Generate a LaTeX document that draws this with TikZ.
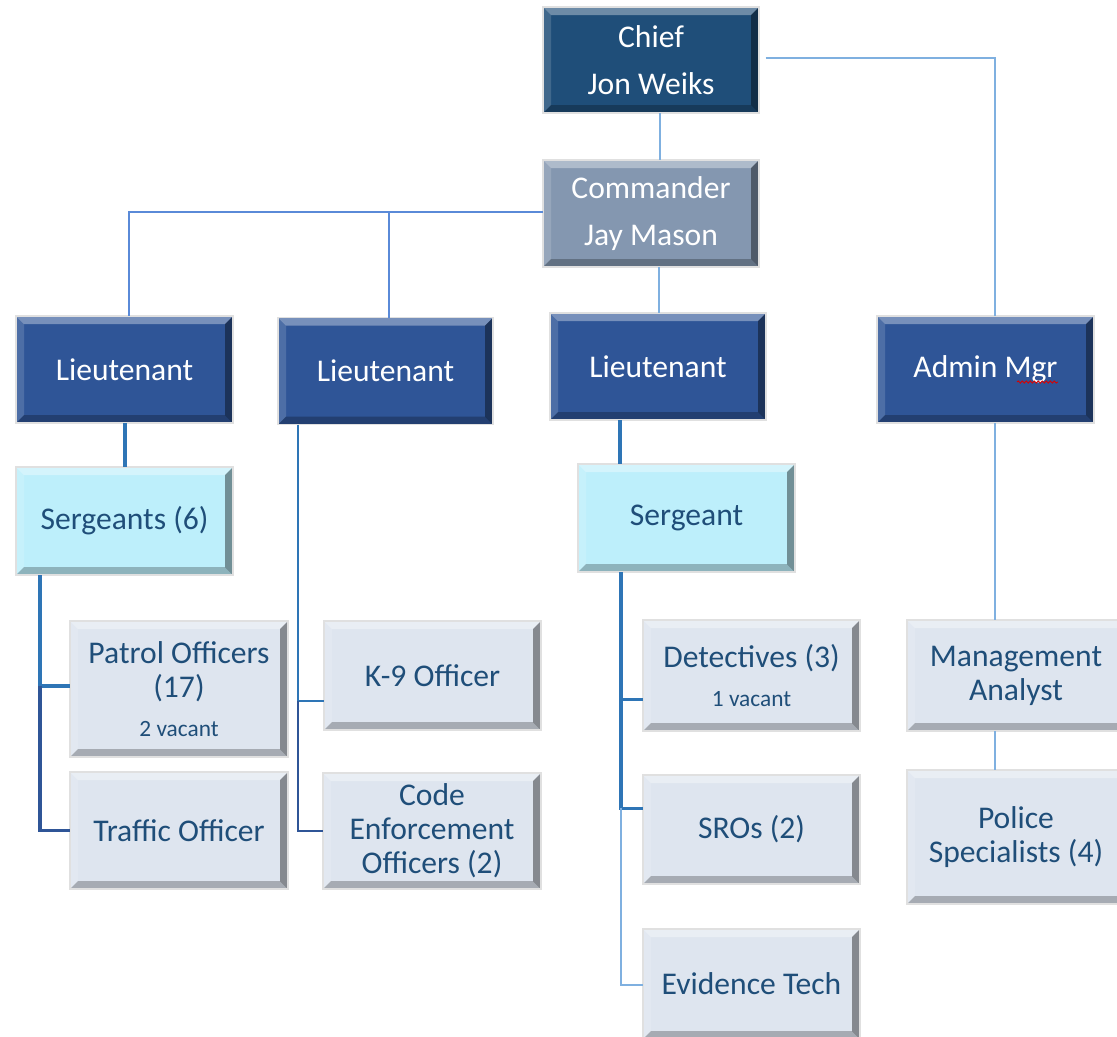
\documentclass[tikz,border=0pt]{standalone}
\usepackage{fontspec}
\setmainfont{Carlito}
\usetikzlibrary{decorations.pathmorphing}

\definecolor{navy}{HTML}{1F4E79}
\definecolor{slate}{HTML}{8497B0}
\definecolor{ltblue}{HTML}{2F5597}
\definecolor{sgtcyan}{HTML}{BDEFFB}
\definecolor{offgray}{HTML}{DEE5EF}
\definecolor{txtdark}{HTML}{1F4E79}
\definecolor{linelight}{HTML}{7FB0E0}
\definecolor{linemid}{HTML}{5A8AD8}
\definecolor{linebold}{HTML}{2E75B6}
\definecolor{linedark}{HTML}{2F5597}

% bevelled edges painted inside each box
\newlength{\bevw}
\setlength{\bevw}{6pt}
\newcommand{\bevelpaint}{%
  \coordinate (pnw) at (path picture bounding box.north west);
  \coordinate (pne) at (path picture bounding box.north east);
  \coordinate (psw) at (path picture bounding box.south west);
  \coordinate (pse) at (path picture bounding box.south east);
  \fill[white,opacity=0.35] (pnw) -- (pne) -- ([xshift=-\bevw,yshift=-\bevw]pne)
    -- ([xshift=\bevw,yshift=-\bevw]pnw) -- cycle;
  \fill[white,opacity=0.15] (pnw) -- ([xshift=\bevw,yshift=-\bevw]pnw)
    -- ([xshift=\bevw,yshift=\bevw]psw) -- (psw) -- cycle;
  \fill[black,opacity=0.40] (pne) -- (pse) -- ([xshift=-\bevw,yshift=\bevw]pse)
    -- ([xshift=-\bevw,yshift=-\bevw]pne) -- cycle;
  \fill[black,opacity=0.25] (psw) -- (pse) -- ([xshift=-\bevw,yshift=\bevw]pse)
    -- ([xshift=\bevw,yshift=\bevw]psw) -- cycle;
}

\tikzset{
  bevelbox/.style={
    rectangle, inner sep=0pt, outer sep=0pt, align=center,
    draw=black!12, line width=0.8pt,
    font=\fontsize{23.7}{25.5}\selectfont,
    path picture={\bevelpaint}},
  chiefbox/.style={bevelbox, fill=navy, text=white},
  cmdrbox/.style={bevelbox, fill=slate, text=white},
  ltbox/.style={bevelbox, fill=ltblue, text=white},
  sgtbox/.style={bevelbox, fill=sgtcyan, text=txtdark},
  offbox/.style={bevelbox, fill=offgray, text=txtdark},
  wlight/.style={draw=linelight, line width=1.3pt},
  wmid/.style={draw=linemid, line width=1.2pt},
  wbold/.style={draw=linebold, line width=2.4pt},
  wboldthin/.style={draw=linebold, line width=1.7pt},
  wdark/.style={draw=linedark, line width=2.4pt},
  wdarkthin/.style={draw=linedark, line width=1.7pt},
}
\newcommand{\smalltxt}{\fontsize{17.5}{19}\selectfont}

\begin{document}
\begin{tikzpicture}[x=0.75pt, y=-0.75pt]
\useasboundingbox (0,0) rectangle (1117,1036);
\clip (0,0) rectangle (1117,1036);

% ---- boxes ----
\node[chiefbox, minimum width=162pt, minimum height=79.5pt] (chief) at (651,60)
  {Chief\\[10pt]Jon Weiks};
\node[cmdrbox, minimum width=162pt, minimum height=80.25pt] (cmdr) at (651,213.5)
  {Commander\\[10pt]Jay Mason};

\node[ltbox, minimum width=162.75pt, minimum height=80.25pt] (lt1) at (124.5,369.5) {Lieutenant};
\node[ltbox, minimum width=161.25pt, minimum height=80.25pt] (lt2) at (385.5,371) {Lieutenant};
\node[ltbox, minimum width=162pt, minimum height=80.25pt] (lt3) at (658,366.5) {Lieutenant};
\node[ltbox, minimum width=162.75pt, minimum height=80.25pt] (adm) at (985.5,369.5) {Admin Mgr};

\node[sgtbox, minimum width=162.75pt, minimum height=81pt] (sg1) at (124.5,521) {Sergeants (6)};
\node[sgtbox, minimum width=162.75pt, minimum height=81pt] (sg2) at (686.5,518) {Sergeant};

\node[offbox, minimum width=163.5pt, minimum height=102pt] (patrol) at (179,689)
  {Patrol Officers\\(17)\\[4pt]{\smalltxt 2 vacant}};
\node[offbox, minimum width=163.5pt, minimum height=87.75pt] (traffic) at (179,830.5) {Traffic Officer};

\node[offbox, minimum width=162.75pt, minimum height=81.75pt] (k9) at (432.5,675.5) {K-9 Officer};
\node[offbox, minimum width=163.5pt, minimum height=87pt] (code) at (432,831)
  {Code\\Enforcement\\Officers (2)};

\node[offbox, minimum width=162.75pt, minimum height=83.25pt] (det) at (751.5,675.5)
  {Detectives (3)\\[4pt]{\smalltxt 1 vacant}};
\node[offbox, minimum width=162.75pt, minimum height=81.75pt] (sro) at (751.5,829.5) {SROs (2)};
\node[offbox, minimum width=162.75pt, minimum height=82.5pt] (evid) at (751.5,984) {Evidence Tech};

\node[offbox, minimum width=163.5pt, minimum height=83.25pt] (mgmt) at (1016,675.5)
  {Management\\Analyst};
\node[offbox, minimum width=163.5pt, minimum height=100.5pt] (police) at (1016,837)
  {Police\\Specialists (4)};

% spell-check squiggle under "Mgr"
\coordinate (sqa) at (1017,382);
\coordinate (sqb) at (1058,382);
\draw[red!85!black, line width=0.7pt,
  decorate, decoration={snake, amplitude=0.8pt, segment length=3pt}] (sqa) -- (sqb);

% ---- connectors ----
% Chief to Admin Mgr
\draw[wlight] ([xshift=5pt,yshift=1.5pt]chief.east) -| ([xshift=7pt]adm.north);
% Chief to Commander
\draw[wlight] ([xshift=6.75pt]chief.south) -- ([xshift=6.75pt]cmdr.north);
% Commander to the two left Lieutenants
\draw[wmid] ([yshift=1pt]cmdr.west) -| ([xshift=3.4pt]lt1.north);
\coordinate (lt2top) at ([xshift=2.6pt]lt2.north);
\coordinate (cmdrw) at ([yshift=1pt]cmdr.west);
\draw[wmid] (lt2top |- cmdrw) -- (lt2top);
% Commander to third Lieutenant
\coordinate (lt3top) at ([xshift=0.75pt]lt3.north);
\draw[wlight] (lt3top |- cmdr.south) -- (lt3top);

% Lieutenant 1 to Sergeants
\draw[wbold] ([xshift=0.4pt]lt1.south) -- ([xshift=0.4pt]sg1.north);
% Sergeants comb
\coordinate (c1top) at ([xshift=18pt]sg1.south west);
\coordinate (pw) at ([yshift=2.2pt]patrol.west);
\coordinate (c1mid) at (c1top |- pw);
\draw[wbold] (c1top) -- (c1mid) -- (pw);
\draw[wdark] (c1mid) |- (traffic.west);

% Lieutenant 2 comb
\coordinate (c2top) at ([xshift=15pt]lt2.south west);
\coordinate (kw) at ([yshift=-19pt]k9.west);
\coordinate (c2mid) at (c2top |- kw);
\draw[wboldthin] (c2top) -- (c2mid) -- (kw);
\draw[wdarkthin] (c2mid) |- (code.west);

% Lieutenant 3 to Sergeant
\coordinate (lt3b) at ([xshift=-28.5pt]lt3.south);
\draw[wbold] (lt3b) -- (lt3b |- sg2.north);
% Sergeant comb
\coordinate (c3top) at ([xshift=32.25pt]sg2.south west);
\coordinate (dw) at ([yshift=-18pt]det.west);
\coordinate (sw) at ([yshift=16pt]sro.west);
\coordinate (c3a) at (c3top |- dw);
\coordinate (c3b) at (c3top |- sw);
\draw[wbold] (c3top) -- (c3a) -- (dw);
\draw[wbold] (c3a) -- (c3b) -- (sw);
\draw[wlight] (c3b) |- ([yshift=-0.75pt]evid.west);

% Admin Mgr to Management Analyst to Police Specialists
\coordinate (admb) at ([xshift=7pt]adm.south);
\draw[wlight] (admb) -- (admb |- mgmt.north);
\draw[wlight] ([xshift=-15.75pt]mgmt.south) -- ([xshift=-15.75pt]police.north);
\end{tikzpicture}
\end{document}
